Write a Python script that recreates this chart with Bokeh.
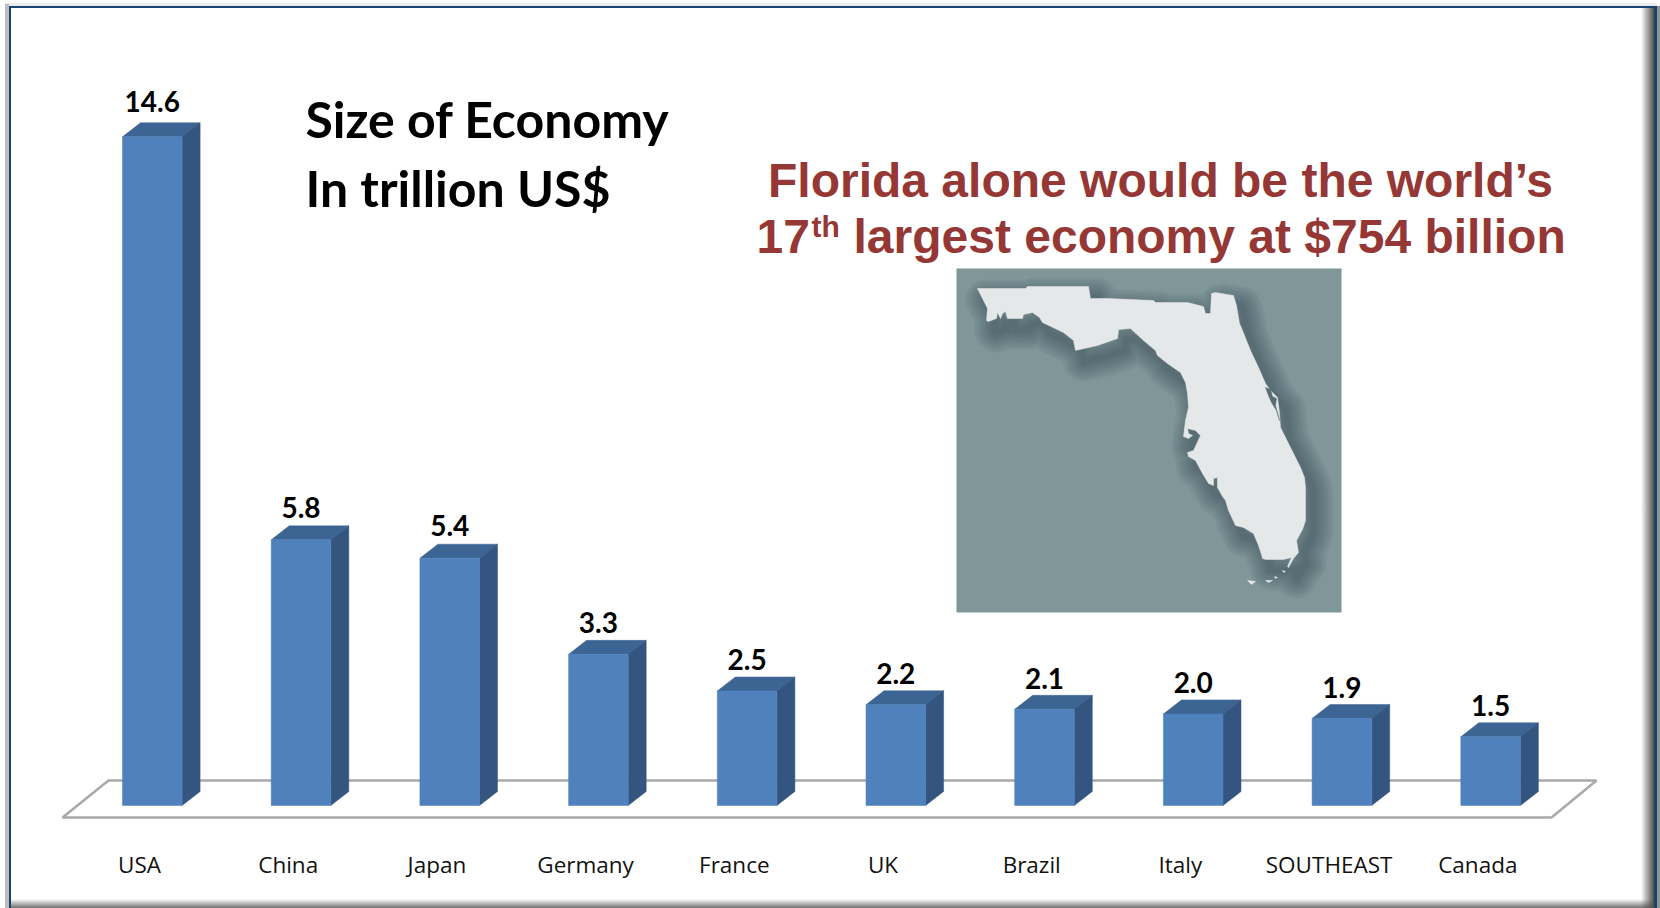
from bokeh.core.properties import value
from bokeh.embed import file_html
from bokeh.models import FixedTicker, LinearAxis, Range1d
from bokeh.plotting import figure
from bokeh.resources import INLINE

# Economy sizes in trillion US$
countries = ["USA", "China", "Japan", "Germany", "France", "UK", "Brazil", "Italy", "SOUTHEAST", "Canada"]
gdp = [14.6, 5.8, 5.4, 3.3, 2.5, 2.2, 2.1, 2.0, 1.9, 1.5]

# Outline of Florida, clockwise from the western end of the panhandle
FL_X = [977, 1025, 1027, 1088, 1090, 1108, 1153, 1155, 1187, 1203, 1205, 1210, 1211, 1215, 1233, 1236, 1239,
        1242, 1250, 1258, 1265, 1270, 1277, 1279, 1280, 1290, 1300, 1304, 1305, 1305, 1302, 1296, 1298, 1293,
        1288, 1287, 1291, 1283, 1265, 1262, 1261, 1258, 1253, 1243, 1235, 1228, 1225, 1222, 1217, 1217, 1213,
        1213, 1208, 1202, 1195, 1188, 1187, 1193, 1200, 1195, 1187, 1188, 1192, 1188, 1183, 1185, 1188, 1187,
        1185, 1180, 1167, 1157, 1155, 1143, 1130, 1118, 1117, 1097, 1075, 1073, 1063, 1042, 1039, 1032, 1023,
        1022, 1007, 1005, 1002, 1000, 997, 996, 988, 986, 987, 983]
FL_Y = [288, 288, 286, 286, 298, 298, 300, 302, 302, 306, 313, 313, 293, 292, 295, 305, 323,
        330, 350, 367, 383, 390, 397, 413, 427, 447, 467, 477, 487, 520, 529, 540, 552, 558,
        567, 566, 557, 559, 559, 558, 554, 545, 533, 527, 525, 510, 500, 496, 487, 477, 478,
        485, 483, 473, 460, 456, 452, 450, 435, 430, 428, 433, 435, 438, 436, 420, 407, 393,
        382, 372, 363, 355, 350, 340, 328, 329, 338, 345, 350, 340, 332, 322, 317, 312, 314,
        318, 318, 311, 313, 318, 312, 318, 321, 320, 308, 300]
LAGOON_X = [1265, 1270, 1272, 1276, 1275, 1279, 1276, 1271, 1268]
LAGOON_Y = [387, 389, 396, 398, 405, 420, 410, 402, 395]
KEYS_X = [[1247, 1255, 1251], [1265, 1272, 1268], [1274, 1277, 1275], [1282, 1285, 1283]]
KEYS_Y = [[580, 581, 584], [580, 580, 582], [576, 577, 578], [570, 571, 572]]

PAGE_W, PAGE_H = 1660, 908
FRAME_H = 832
BASE_Y, PX_PER_VALUE = 805.0, 45.8
SLOT, FIRST_LABEL = 148.7, 139.0
BAR_SHIFT, BAR_HALF = 12.8 / SLOT, 29.8 / SLOT
DEPTH_X, DEPTH_Y = 18.0 / SLOT, 14.0 / PX_PER_VALUE
LABEL_GAP_GROWTH = 0.35 / PX_PER_VALUE

FRONT, SIDE, TOP = "#4f81bd", "#34557f", "#3d6594"
NAVY = "#1c4272"
RED = "#953735"


def solid(color, x, y, w, h):
    return (f"linear-gradient({color},{color})", f"{x}px {y}px", f"{w}px {h}px")


def fade(direction, color, x, y, w, h):
    return (f"linear-gradient(to {direction},rgba(90,90,90,0),{color})", f"{x}px {y}px", f"{w}px {h}px")


# The slide frame sits behind the transparent canvas
layers = [
    solid(NAVY, 9, 6, 1648, 2),
    solid(NAVY, 9, 6, 2, PAGE_H),
    solid(NAVY, 1654, 6, 3, PAGE_H),
    fade("right", "#505050", 1641, 8, 13, PAGE_H),
    fade("bottom", "#707070", 11, 899, 1643, 9),
    solid("#bdbdbd", 5, 4, 4, PAGE_H),
    solid("#ececec", 5, 3, 1652, 3),
    solid("#909090", 1657, 6, 3, PAGE_H),
]
page_style = {
    "background-color": "white",
    "background-image": ",".join(l[0] for l in layers),
    "background-position": ",".join(l[1] for l in layers),
    "background-size": ",".join(l[2] for l in layers),
    "background-repeat": "no-repeat",
}

p = figure(width=PAGE_W, height=PAGE_H, output_backend="svg", toolbar_location=None,
           x_range=Range1d(0, PAGE_W), y_range=Range1d(FRAME_H, 0),
           min_border=0, min_border_left=0, min_border_right=0, min_border_top=0,
           min_border_bottom=PAGE_H - FRAME_H, outline_line_color=None,
           background_fill_alpha=0, border_fill_alpha=0, styles=page_style)
p.axis.visible = False
p.grid.visible = False

# Data scales: slot index across, value in trillions upward
p.extra_x_ranges["slot"] = Range1d(-FIRST_LABEL / SLOT, (PAGE_W - FIRST_LABEL) / SLOT)
p.extra_y_ranges["usd"] = Range1d((BASE_Y - FRAME_H) / PX_PER_VALUE, BASE_Y / PX_PER_VALUE)

# Category axis
idx = list(range(len(countries)))
axis = LinearAxis(x_range_name="slot", ticker=FixedTicker(ticks=idx),
                  major_label_overrides={i: c for i, c in zip(idx, countries)},
                  axis_line_color=None, major_tick_line_color=None, minor_tick_line_color=None,
                  major_label_standoff=10, major_label_text_font="Open Sans",
                  major_label_text_font_size="22.5px", major_label_text_color="#111111")
p.add_layout(axis, "below")

# Floor of the 3-D chart
p.patch([62, 1551, 1596, 108], [817, 817, 780, 780], fill_color="white",
        line_color="#a9a9a9", line_width=2.5)

# Bars: top face, side face, front face
lefts = [i + BAR_SHIFT - BAR_HALF for i in idx]
rights = [i + BAR_SHIFT + BAR_HALF for i in idx]
zeros = [0.0] * len(idx)
top_xs = [[l, r, r + DEPTH_X, l + DEPTH_X] for l, r in zip(lefts, rights)]
top_ys = [[v, v, v + DEPTH_Y, v + DEPTH_Y] for v in gdp]
side_xs = [[r, r + DEPTH_X, r + DEPTH_X, r] for r in rights]
side_ys = [[v, v + DEPTH_Y, DEPTH_Y, 0] for v in gdp]
p.patches(top_xs, top_ys, x_range_name="slot", y_range_name="usd", fill_color=TOP, line_color=TOP, line_width=0.5)
p.patches(side_xs, side_ys, x_range_name="slot", y_range_name="usd", fill_color=SIDE, line_color=SIDE, line_width=0.5)
p.quad(left=lefts, right=rights, bottom=zeros, top=gdp, x_range_name="slot", y_range_name="usd",
       fill_color=FRONT, line_color=FRONT, line_width=0.5)

# Value labels; the gap above a bar widens a little with its height
p.text(x=[i + BAR_SHIFT for i in idx], y=[v * (1 + LABEL_GAP_GROWTH) + DEPTH_Y for v in gdp],
       text=[f"{v:.1f}" for v in gdp],
       x_range_name="slot", y_range_name="usd", y_offset=-16.5,
       text_align="center", text_baseline="middle", text_font=value("Lato"),
       text_font_style="bold", text_font_size="28px", text_color="black")


def caption(x, y, line, font, size, color, align="left"):
    p.text(x=[x], y=[y], text=[line], text_align=align, text_baseline="middle", text_font=value(font),
           text_font_style="bold", text_font_size=f"{size}px", text_color=color)


# Chart heading
caption(305, 118, "Size of Economy", "Lato", 50, "black")
caption(305, 187, "In trillion US$", "Lato", 50, "black")

# Florida callout
caption(1160, 179.5, "Florida alone would be the world\u2019s", "Liberation Sans", 48, RED, "center")
caption(756, 236, "17", "Liberation Sans", 48, RED)
caption(811, 226, "th", "Liberation Sans", 30, RED)
caption(853, 236, "largest economy at $754 billion", "Liberation Sans", 48, RED)

# Map panel with a soft drop shadow under the state: stacked strokes only
p.quad(left=[956], right=[1341], top=[268], bottom=[612], fill_color="#7f9799", line_color=None)
for w in (40, 35, 30, 25, 20, 15, 10, 6):
    p.patch([x + 8 for x in FL_X], [y + 11 for y in FL_Y], fill_alpha=0,
            line_color="#2f4347", line_alpha=0.065, line_width=w, line_join="round")
p.patch(FL_X, FL_Y, fill_color="#e4e8e9", line_color="#e4e8e9", line_width=0.5)
p.patch(LAGOON_X, LAGOON_Y, fill_color="#566c70", line_color="#566c70", line_width=0.5)
p.patches(KEYS_X, KEYS_Y, fill_color="#e4e8e9", line_color="#e4e8e9", line_width=0.5)

open("out.html", "w").write(file_html(p, INLINE))
